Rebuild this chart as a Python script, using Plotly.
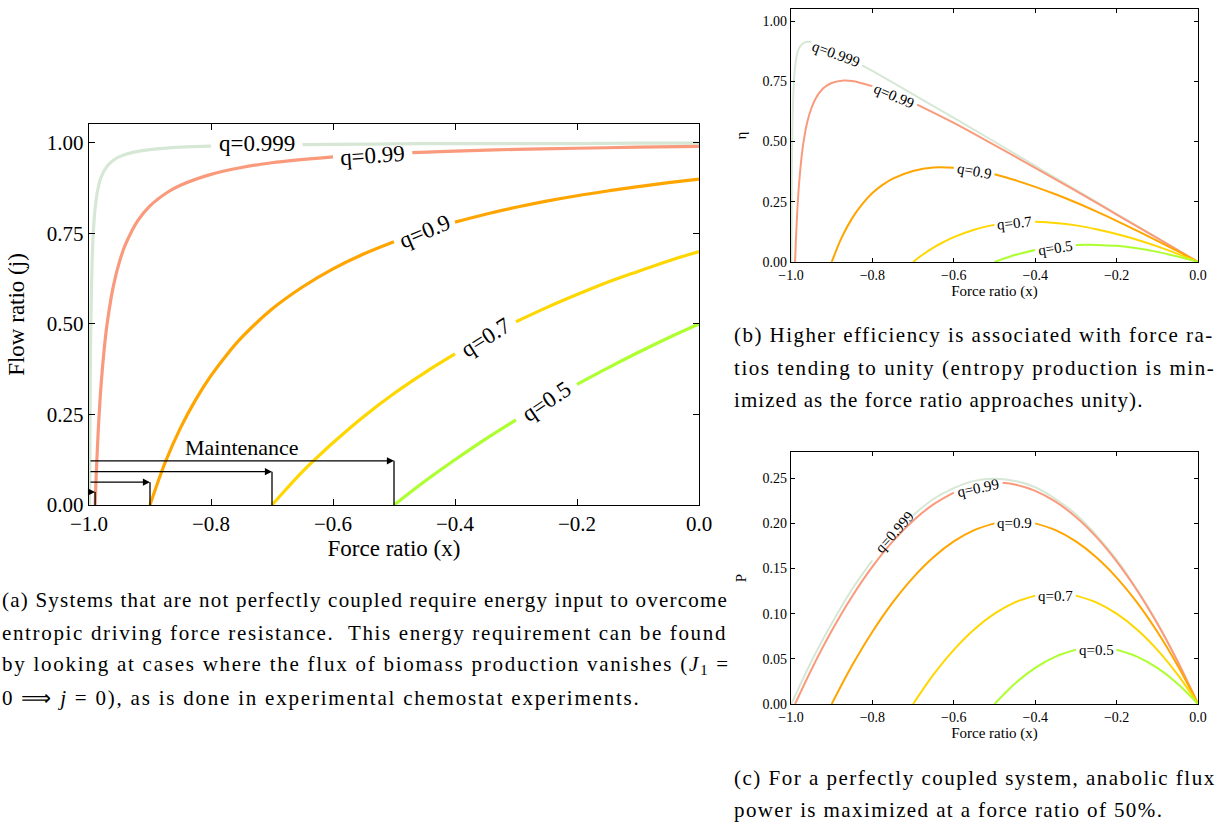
import plotly.graph_objects as go

W, H = 1216, 825
FONT = "Liberation Serif"

q_labels = ["q=0.999", "q=0.99", "q=0.9", "q=0.7", "q=0.5"]
colors = ["#d6e8d5", "#fa9a7c", "#ffa500", "#ffd700", "#adff2f"]

# ---------- panel (a): flow ratio j vs force ratio x (None = gap under the inline label) ----------
xa_q999 = [-0.999, -0.998, -0.997, -0.995, -0.993, -0.99, -0.985, -0.98, -0.97, -0.96, -0.95, -0.93,
           -0.9, -0.85, -0.8, None, -0.65, -0.6, -0.5, -0.4, -0.3, -0.2, -0.1, 0.0]
ja_q999 = [0.0, 0.334, 0.500, 0.667, 0.751, 0.819, 0.876, 0.906, 0.936, 0.952, 0.962, 0.973,
           0.981, 0.988, 0.991, None, 0.995, 0.996, 0.997, 0.998, 0.998, 0.998, 0.999, 0.999]
xa_q99 = [-0.99, -0.988, -0.985, -0.98, -0.975, -0.97, -0.96, -0.95, -0.94, -0.92, -0.9, -0.87,
          -0.85, -0.8, -0.75, -0.7, -0.6, None, -0.47, -0.4, -0.3, -0.2, -0.1, 0.0]
ja_q99 = [0.0, 0.091, 0.201, 0.336, 0.432, 0.504, 0.605, 0.672, 0.720, 0.785, 0.826, 0.865,
          0.883, 0.913, 0.932, 0.945, 0.961, None, 0.973, 0.977, 0.982, 0.985, 0.988, 0.990]
xa_q9 = [-0.9, -0.875, -0.85, -0.825, -0.8, -0.775, -0.75, -0.7, -0.65, -0.6, -0.55, -0.5, None,
         -0.4, -0.35, -0.3, -0.25, -0.2, -0.15, -0.1, -0.05, 0.0]
ja_q9 = [0.0, 0.118, 0.213, 0.291, 0.357, 0.413, 0.462, 0.541, 0.602, 0.652, 0.693, 0.727, None,
         0.781, 0.803, 0.822, 0.839, 0.854, 0.867, 0.879, 0.890, 0.900]
xa_q7 = [-0.7, -0.675, -0.65, -0.625, -0.6, -0.55, -0.5, -0.45, -0.4, None, -0.3, -0.25, -0.2,
         -0.15, -0.1, -0.05, 0.0]
ja_q7 = [0.0, 0.047, 0.092, 0.133, 0.172, 0.244, 0.308, 0.365, 0.417, None, 0.506, 0.545, 0.581,
         0.615, 0.645, 0.674, 0.700]
xa_q5 = [-0.5, -0.45, -0.4, -0.35, -0.3, None, -0.2, -0.15, -0.1, -0.05, 0.0]
ja_q5 = [0.0, 0.065, 0.125, 0.182, 0.235, None, 0.333, 0.378, 0.421, 0.462, 0.500]

# ---------- panel (b): efficiency eta ----------
xb_q999 = [-0.999, -0.998, -0.997, -0.995, -0.993, -0.99, -0.985, -0.98, -0.97, -0.96, -0.95, None,
           -0.825, -0.8, -0.7, -0.6, -0.5, -0.4, -0.3, -0.2, -0.1, 0.0]
eb_q999 = [0.0, 0.333, 0.499, 0.664, 0.746, 0.811, 0.863, 0.888, 0.908, 0.914, 0.914, None,
           0.816, 0.793, 0.696, 0.598, 0.499, 0.399, 0.299, 0.200, 0.100, 0.0]
xb_q99 = [-0.99, -0.988, -0.985, -0.98, -0.975, -0.97, -0.96, -0.95, -0.94, -0.92, -0.9, -0.87,
          -0.85, -0.8, None, -0.69, -0.6, -0.5, -0.4, -0.3, -0.2, -0.1, 0.0]
eb_q99 = [0.0, 0.090, 0.198, 0.329, 0.421, 0.489, 0.581, 0.638, 0.677, 0.722, 0.743, 0.753,
          0.751, 0.730, None, 0.653, 0.577, 0.485, 0.391, 0.295, 0.197, 0.099, 0.0]
xb_q9 = [-0.9, -0.875, -0.85, -0.825, -0.8, -0.775, -0.75, -0.7, -0.65, -0.6, None, -0.5, -0.45,
         -0.4, -0.35, -0.3, -0.25, -0.2, -0.15, -0.1, -0.05, 0.0]
eb_q9 = [0.0, 0.103, 0.181, 0.240, 0.286, 0.320, 0.346, 0.378, 0.392, 0.391, None, 0.364, 0.340,
         0.312, 0.281, 0.247, 0.210, 0.171, 0.130, 0.088, 0.045, 0.0]
xb_q7 = [-0.7, -0.675, -0.65, -0.625, -0.6, -0.55, -0.5, None, -0.4, -0.35, -0.3, -0.25, -0.2,
         -0.15, -0.1, -0.05, 0.0]
eb_q7 = [0.0, 0.032, 0.060, 0.083, 0.103, 0.134, 0.154, None, 0.167, 0.162, 0.152, 0.136, 0.116,
         0.092, 0.065, 0.034, 0.0]
xb_q5 = [-0.5, -0.45, -0.4, None, -0.3, -0.25, -0.2, -0.15, -0.1, -0.05, 0.0]
eb_q5 = [0.0, 0.029, 0.050, None, 0.071, 0.071, 0.067, 0.057, 0.042, 0.023, 0.0]

# ---------- panel (c): power P ----------
xc_q999 = [-0.999, -0.95, -0.9, -0.85, -0.8, None, -0.7, -0.65, -0.6, -0.55, -0.5, -0.45, -0.4,
           -0.35, -0.3, -0.25, -0.2, -0.15, -0.1, -0.05, 0.0]
pc_q999 = [0.0, 0.047, 0.089, 0.127, 0.159, None, 0.209, 0.227, 0.239, 0.247, 0.2495, 0.247,
           0.240, 0.227, 0.210, 0.187, 0.160, 0.127, 0.090, 0.047, 0.0]
xc_q99 = [-0.99, -0.95, -0.9, -0.85, -0.8, -0.75, -0.7, -0.65, -0.6, None, -0.48, -0.45, -0.4,
          -0.35, -0.3, -0.25, -0.2, -0.15, -0.1, -0.05, 0.0]
pc_q99 = [0.0, 0.038, 0.081, 0.119, 0.152, 0.180, 0.203, 0.221, 0.234, None, 0.245, 0.243, 0.236,
          0.224, 0.207, 0.185, 0.158, 0.126, 0.089, 0.047, 0.0]
xc_q9 = [-0.9, -0.85, -0.8, -0.75, -0.7, -0.65, -0.6, -0.55, -0.5, None, -0.4, -0.35, -0.3, -0.25,
         -0.2, -0.15, -0.1, -0.05, 0.0]
pc_q9 = [0.0, 0.0425, 0.080, 0.1125, 0.140, 0.1625, 0.180, 0.1925, 0.200, None, 0.200, 0.1925,
         0.180, 0.1625, 0.140, 0.1125, 0.080, 0.0425, 0.0]
xc_q7 = [-0.7, -0.65, -0.6, -0.55, -0.5, -0.45, -0.4, None, -0.3, -0.25, -0.2, -0.15, -0.1, -0.05, 0.0]
pc_q7 = [0.0, 0.0325, 0.060, 0.0825, 0.100, 0.1125, 0.120, None, 0.120, 0.1125, 0.100, 0.0825,
         0.060, 0.0325, 0.0]
xc_q5 = [-0.5, -0.45, -0.4, -0.35, -0.3, None, -0.2, -0.15, -0.1, -0.05, 0.0]
pc_q5 = [0.0, 0.0225, 0.040, 0.0525, 0.060, None, 0.060, 0.0525, 0.040, 0.0225, 0.0]

# ---------- maintenance markers (panel a) ----------
maint_x = [-0.99, -0.9, -0.7, -0.5]
maint_h = [0.036, 0.063, 0.092, 0.122]

# ---------- ticks ----------
x_ticks = [-1.0, -0.8, -0.6, -0.4, -0.2, 0.0]
x_ticktext = ["\u22121.0", "\u22120.8", "\u22120.6", "\u22120.4", "\u22120.2", "0.0"]
j_ticks = [0.0, 0.25, 0.5, 0.75, 1.0]
j_ticktext = ["0.00", "0.25", "0.50", "0.75", "1.00"]
p_ticks = [0.0, 0.05, 0.10, 0.15, 0.20, 0.25]
p_ticktext = ["0.00", "0.05", "0.10", "0.15", "0.20", "0.25"]

A = [(xa_q999, ja_q999), (xa_q99, ja_q99), (xa_q9, ja_q9), (xa_q7, ja_q7), (xa_q5, ja_q5)]
B = [(xb_q999, eb_q999), (xb_q99, eb_q99), (xb_q9, eb_q9), (xb_q7, eb_q7), (xb_q5, eb_q5)]
C = [(xc_q999, pc_q999), (xc_q99, pc_q99), (xc_q9, pc_q9), (xc_q7, pc_q7), (xc_q5, pc_q5)]

fig = go.Figure()
for panel, (xr, yr), lw in [(A, ("x", "y"), 3.2), (B, ("x2", "y2"), 2), (C, ("x3", "y3"), 2)]:
    for i, (xs, ys) in enumerate(panel):
        fig.add_trace(go.Scatter(x=xs, y=ys, mode="lines", xaxis=xr, yaxis=yr, connectgaps=False,
                                 line=dict(color=colors[i], width=lw, shape="spline", smoothing=1.0),
                                 name=q_labels[i], showlegend=False, hoverinfo="skip"))


def px_x(p):
    return p / W


def px_y(p):
    return 1 - p / H


def axis(domain, rng, tickvals, ticktext, size, anchor, ticklen, lw):
    return dict(domain=domain, range=rng, tickvals=tickvals, ticktext=ticktext,
                tickfont=dict(family=FONT, size=size, color="black"),
                showline=True, linecolor="black", linewidth=lw, mirror="ticks",
                ticks="inside", ticklen=ticklen, tickwidth=1, tickcolor="black",
                showgrid=False, zeroline=False, anchor=anchor, fixedrange=True, automargin=False)


xa = axis([px_x(89), px_x(699)], [-1, 0], x_ticks, x_ticktext, 21, "y", 6, 1.4)
xa["title"] = dict(text="Force ratio (x)", font=dict(family=FONT, size=23, color="black"), standoff=1)
ya = axis([px_y(505), px_y(124)], [0, 1.052], j_ticks, j_ticktext, 21, "x", 6, 1.4)
ya["title"] = dict(text="Flow ratio (j)", font=dict(family=FONT, size=23, color="black"), standoff=15)

xb = axis([px_x(791), px_x(1198)], [-1, 0], x_ticks, x_ticktext, 14, "y2", 4, 1.2)
xb["title"] = dict(text="Force ratio (x)", font=dict(family=FONT, size=15, color="black"), standoff=2)
yb = axis([px_y(262), px_y(9)], [0, 1.05], j_ticks, j_ticktext, 14, "x2", 4, 1.2)
yb["title"] = dict(text="\u03b7", font=dict(family=FONT, size=15, color="black"), standoff=12)

xc = axis([px_x(791), px_x(1198)], [-1, 0], x_ticks, x_ticktext, 14, "y3", 4, 1.2)
xc["title"] = dict(text="Force ratio (x)", font=dict(family=FONT, size=15, color="black"), standoff=2)
yc = axis([px_y(704), px_y(452)], [0, 0.279], p_ticks, p_ticktext, 14, "x3", 4, 1.2)
yc["title"] = dict(text="P", font=dict(family=FONT, size=15, color="black"), standoff=12)

annotations = []
shapes = []

# maintenance arrows
for mx, mh in zip(maint_x, maint_h):
    annotations.append(dict(x=mx, y=mh, ax=-1.0, ay=mh, xref="x", yref="y", axref="x", ayref="y",
                            text="", showarrow=True, arrowhead=2, arrowsize=1.1, arrowwidth=1.3,
                            arrowcolor="black", standoff=0, startstandoff=0))
    shapes.append(dict(type="line", xref="x", yref="y", x0=mx, x1=mx, y0=0, y1=mh,
                       line=dict(color="black", width=1.3)))
annotations.append(dict(x=-0.75, y=0.16, xref="x", yref="y", text="Maintenance", showarrow=False,
                        font=dict(family=FONT, size=22, color="black")))

# inline curve labels: (x, y, angle) in data units
lab_a = [(-0.725, 0.999, 0), (-0.535, 0.966, -4), (-0.45, 0.756, -23),
         (-0.35, 0.463, -32), (-0.25, 0.285, -34)]
lab_b = [(-0.89, 0.862, 20), (-0.746, 0.69, 23), (-0.55, 0.378, 10),
         (-0.45, 0.161, -6), (-0.35, 0.059, -8)]
lab_c = [(-0.745, 0.19, -48), (-0.54, 0.239, -12), (-0.45, 0.2, 0),
         (-0.35, 0.12, 0), (-0.25, 0.06, 0)]
for labs, xr, yr, size in [(lab_a, "x", "y", 23), (lab_b, "x2", "y2", 15), (lab_c, "x3", "y3", 15)]:
    for (lx, ly, ang), t in zip(labs, q_labels):
        annotations.append(dict(x=lx, y=ly, xref=xr, yref=yr, text=t, showarrow=False,
                                textangle=ang, font=dict(family=FONT, size=size, color="black")))

# captions (letter spacing emulates the wider, justified LaTeX text)
cap_a = ["(a) Systems that are not perfectly coupled require energy input to overcome",
         "entropic driving force resistance.  This energy requirement can be found",
         "by looking at cases where the flux of biomass production vanishes (<i>J</i><sub>1</sub> =",
         "0 \u27f9 <i>j</i> = 0), as is done in experimental chemostat experiments."]
cap_a_y = [600, 633, 665, 698]
cap_a_ls = [1.22, 1.65, 1.75, 1.78]
cap_b = ["(b) Higher efficiency is associated with force ra-",
         "tios tending to unity (entropy production is min-",
         "imized as the force ratio approaches unity)."]
cap_b_y = [335, 368, 400]
cap_b_ls = [1.45, 1.55, 1.05]
cap_c = ["(c) For a perfectly coupled system, anabolic flux",
         "power is maximized at a force ratio of 50%."]
cap_c_y = [778, 810]
cap_c_ls = [1.5, 1.4]

for lines, ys, lss, x0 in [(cap_a, cap_a_y, cap_a_ls, 0), (cap_b, cap_b_y, cap_b_ls, 732),
                           (cap_c, cap_c_y, cap_c_ls, 732)]:
    for txt, yy, ls in zip(lines, ys, lss):
        annotations.append(dict(x=px_x(x0), y=px_y(yy), xref="paper", yref="paper",
                                text=f'<span style="letter-spacing:{ls}px">{txt}</span>',
                                showarrow=False, xanchor="left", yanchor="middle", align="left",
                                font=dict(family=FONT, size=21, color="black")))

fig.update_layout(width=W, height=H, autosize=False, margin=dict(l=0, r=0, t=0, b=0, pad=0),
                  paper_bgcolor="white", plot_bgcolor="white", showlegend=False,
                  font=dict(family=FONT, color="black"),
                  xaxis=xa, yaxis=ya, xaxis2=xb, yaxis2=yb, xaxis3=xc, yaxis3=yc,
                  annotations=annotations, shapes=shapes)

fig.write_html("out.html", config={"displayModeBar": False},
               post_script="document.body.style.margin='0px';document.body.style.overflow='hidden';")
